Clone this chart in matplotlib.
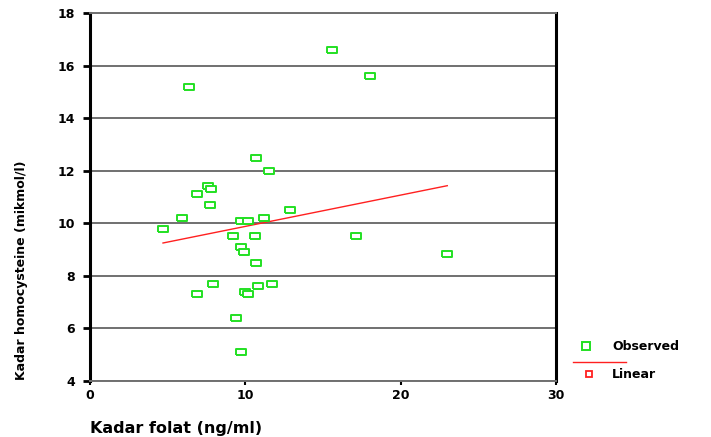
import numpy as np
import matplotlib
matplotlib.use("Agg")
import matplotlib.pyplot as plt
from matplotlib.lines import Line2D

# Data
folat = [15.6, 18.0, 6.4, 10.7, 11.5, 7.6, 7.8, 6.9, 7.7, 12.9, 5.9, 11.2, 9.7, 10.2,
         4.7, 9.2, 10.6, 17.1, 9.7, 9.9, 10.7, 23.0, 7.9, 11.7, 10.8, 6.9, 10.0, 10.2, 9.4, 9.7]
homocys = [16.6, 15.6, 15.2, 12.5, 12.0, 11.4, 11.3, 11.1, 10.7, 10.5, 10.2, 10.2, 10.1, 10.1,
           9.8, 9.5, 9.5, 9.5, 9.1, 8.9, 8.5, 8.85, 7.7, 7.7, 7.6, 7.3, 7.4, 7.3, 6.4, 5.1]
fit_x = [4.7, 23.0]
fit_y = [9.25, 11.43]
xticks = [0, 10, 20, 30]
yticks = [4, 6, 8, 10, 12, 14, 16, 18]

plt.rcParams['font.family'] = ['DejaVu Sans']
fig = plt.figure(figsize=(7.11, 4.37), dpi=100)
ax = fig.add_axes([90/711, 1-381/437, (556-90)/711, (381-13)/437])

rect = [(-1, -0.62), (1, -0.62), (1, 0.62), (-1, 0.62), (-1, -0.62)]
green = '#22e022'
ax.plot(folat, homocys, linestyle='none', marker=rect, markersize=7,
        markerfacecolor='white', markeredgecolor=green, markeredgewidth=1.4,
        clip_on=False, zorder=3)
ax.plot(fit_x, fit_y, color='#ff2020', lw=1.0, zorder=2)

ax.set_xlim(0, 30)
ax.set_ylim(4, 18)
ax.set_xticks(xticks)
ax.set_yticks(yticks)
ax.set_xticklabels([str(t) for t in xticks], fontsize=9, fontweight='bold')
ax.set_yticklabels([str(t) for t in yticks], fontsize=9, fontweight='bold')
for t in yticks:
    ax.axhline(t, color='#707070', lw=1.4, zorder=1)
ax.tick_params(axis='y', direction='out', length=5, width=2, pad=6, color='black')
ax.tick_params(axis='x', direction='out', length=3, width=1.5, pad=3, color='black')

for s in ['top', 'bottom']:
    ax.spines[s].set_color('#707070')
    ax.spines[s].set_linewidth(1.4)
for s in ['left', 'right']:
    ax.spines[s].set_color('black')
    ax.spines[s].set_linewidth(2.2)

fig.text(90/711, 1-428/437, 'Kadar folat (ng/ml)', fontsize=11.5, fontweight='bold',
         ha='left', va='center')
fig.text(22/711, 1-270/437, 'Kadar homocysteine (mikmol/l)', fontsize=9, fontweight='bold',
         rotation=90, ha='center', va='center')

# Legend drawn in figure coordinates
fig.add_artist(Line2D([586/711], [1-346/437], marker='s', markersize=5.5,
                      markerfacecolor='white', markeredgecolor=green,
                      markeredgewidth=1.4, linestyle='none'))
fig.text(612/711, 1-347/437, 'Observed', fontsize=9, fontweight='bold',
         ha='left', va='center')
fig.add_artist(Line2D([573/711, 626/711], [1-362/437, 1-362/437], color='#ff2020', lw=1.0))
fig.add_artist(Line2D([589/711], [1-374/437], marker='s', markersize=5,
                      markerfacecolor='white', markeredgecolor='#ff2020',
                      markeredgewidth=1.3, linestyle='none'))
fig.text(612/711, 1-375/437, 'Linear', fontsize=9, fontweight='bold',
         ha='left', va='center')

fig.savefig('out.png', dpi=100)
